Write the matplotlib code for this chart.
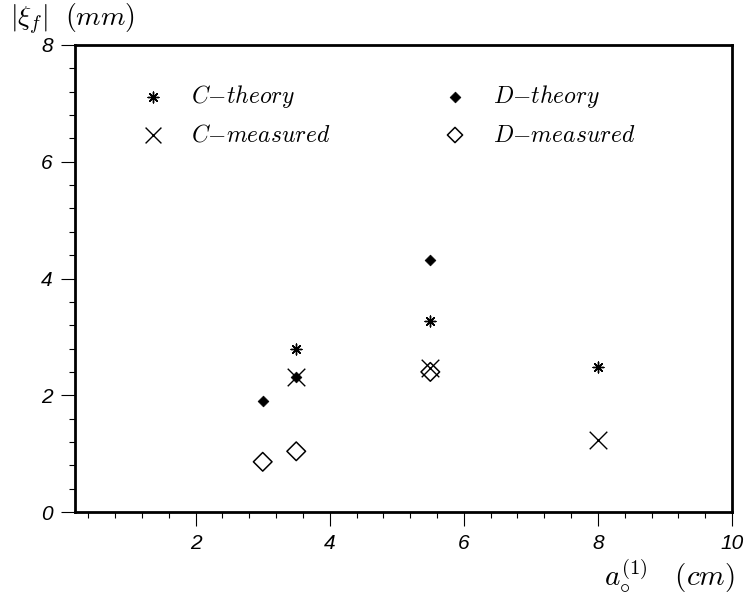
import matplotlib
matplotlib.use("Agg")
import matplotlib.pyplot as plt
import numpy as np
from matplotlib.ticker import MultipleLocator, FixedLocator

plt.rcParams['mathtext.fontset'] = 'cm'

# data
c_theory_x = [3.5, 5.5, 8.0]
c_theory_y = [2.80, 3.28, 2.49]
d_theory_x = [3.0, 3.5, 5.5]
d_theory_y = [1.91, 2.32, 4.31]
c_meas_x = [3.5, 5.5, 8.0]
c_meas_y = [2.31, 2.46, 1.24]
d_meas_x = [3.0, 3.5, 5.5]
d_meas_y = [0.86, 1.04, 2.40]
x_major = [2, 4, 6, 8, 10]
y_major = [0, 2, 4, 6, 8]

fig = plt.figure(figsize=(7.47, 6.03), dpi=100)
ax = fig.add_axes([75/747, 1-512/603, (732-75)/747, (512-45)/603])

ast = (8, 2, 0)
ax.scatter(c_theory_x, c_theory_y, marker=ast, s=60, color='black', linewidths=1.0, zorder=3)
ax.scatter(d_theory_x, d_theory_y, marker='D', s=30, color='black', linewidths=0.5, zorder=3)
ax.scatter(c_meas_x, c_meas_y, marker='x', s=160, color='black', linewidths=1.0, zorder=3)
ax.scatter(d_meas_x, d_meas_y, marker='D', s=90, facecolors='none', edgecolors='black', linewidths=1.1, zorder=3)

ax.set_xlim(0.2, 10)
ax.set_ylim(0, 8)
ax.xaxis.set_major_locator(FixedLocator(x_major))
ax.yaxis.set_major_locator(FixedLocator(y_major))
ax.xaxis.set_minor_locator(MultipleLocator(0.4))
ax.yaxis.set_minor_locator(MultipleLocator(0.4))
ax.tick_params(which='major', direction='out', length=10, width=0.8, labelsize=15)
ax.tick_params(axis='x', which='major', pad=6)
ax.tick_params(axis='y', which='major', pad=6)
ax.tick_params(which='minor', direction='out', length=4, width=0.8)
for lab in ax.get_xticklabels() + ax.get_yticklabels():
    lab.set_fontstyle('italic')
    lab.set_family('Liberation Sans')
for sp in ax.spines.values():
    sp.set_linewidth(2.0)

# legend (manual layout)
tr = ax.transAxes
def lx(px):
    return (px - 75) / (732 - 75)
def ly(py):
    return (512 - py) / (512 - 45)
legend_items = [
    (153, 97, dict(marker=ast, s=60, color='black', linewidths=1.0), r'$C{-}theory$'),
    (455, 97, dict(marker='D', s=30, color='black', linewidths=0.5), r'$D{-}theory$'),
    (153, 135, dict(marker='x', s=130, color='black', linewidths=1.0), r'$C{-}measured$'),
    (455, 135, dict(marker='D', s=60, facecolors='none', edgecolors='black', linewidths=1.1), r'$D{-}measured$'),
]
for mx, my, kw, txt in legend_items:
    ax.scatter([lx(mx)], [ly(my)], transform=tr, clip_on=False, **kw)
    ax.text(lx(mx + 38), ly(my), txt, transform=tr, fontsize=17, va='center', ha='left')

fig.text(10/747, 1-19/603, r'$|\xi_f|\ \ (mm)$', fontsize=20, ha='left', va='center')
fig.text(735/747, 1-576/603, r'$a_{\circ}^{(\mathit{1})}\ \ \ (cm)$', fontsize=21, ha='right', va='center')

fig.savefig('out.png', dpi=100)
